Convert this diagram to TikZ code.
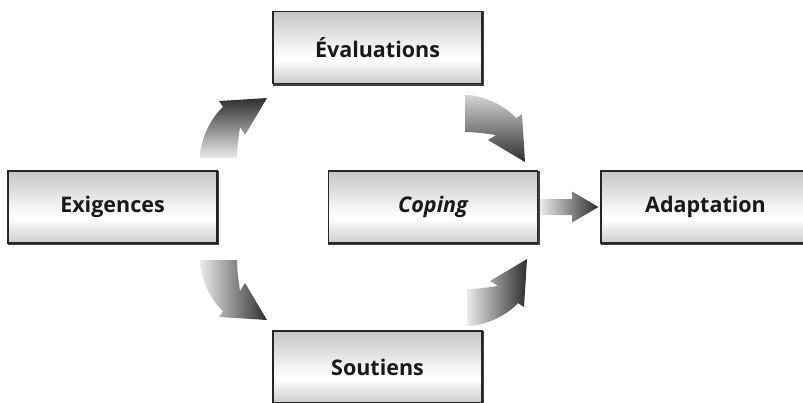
\documentclass[tikz,border=0pt]{standalone}
\usepackage{fontspec}
\setmainfont{Open Sans}
\usetikzlibrary{calc}
\definecolor{boxtop}{gray}{0.77}
\definecolor{boxbot}{gray}{0.80}
\definecolor{arrdark}{gray}{0.18}
\definecolor{arrlight}{gray}{0.92}
\definecolor{txt}{gray}{0.1}
\pgfdeclareverticalshading{boxshade}{100bp}{color(0bp)=(boxbot); color(25bp)=(boxbot); color(42bp)=(white); color(48bp)=(white!97!black); color(75bp)=(boxtop); color(100bp)=(boxtop)}
% local arrow point -> global coordinate
\newcommand\ArPt[3]{\coordinate (\ArP-#1) at ({\ArX+\ArA*(#2)+\ArC*(#3)},{\ArY+\ArB*(#2)+\ArD*(#3)});}
\newcommand\ArrowPts[7]{%
  \def\ArP{#1}\def\ArX{#2}\def\ArY{#3}\def\ArA{#4}\def\ArB{#5}\def\ArC{#6}\def\ArD{#7}%
  \ArPt{ob}{-18.5}{0}
  \ArPt{c1}{-18.5}{-18}
  \ArPt{c2}{-8}{-40}
  \ArPt{oj}{4.5}{-51}
  \ArPt{lb}{0.5}{-57}
  \ArPt{tip}{48.5}{-60}
  \ArPt{rb}{26.5}{-23}
  \ArPt{ij}{21.5}{-31}
  \ArPt{c3}{20}{-20}
  \ArPt{c4}{18.5}{-10}
  \ArPt{ib}{18.5}{0}
}
\newcommand\ArrowShape[1]{(#1-ob) .. controls (#1-c1) and (#1-c2) .. (#1-oj) -- (#1-lb) -- (#1-tip) -- (#1-rb) -- (#1-ij) .. controls (#1-c3) and (#1-c4) .. (#1-ib) -- cycle}
\tikzset{
  box/.style={draw=black!85, line width=1.1pt, minimum width=209pt, minimum height=72pt, inner sep=0pt,
    text=txt, font=\bfseries\fontsize{21.5}{25}\selectfont, shade, shading=boxshade},
  boxshadow/.style={draw=black!75, line width=1.2pt},
}
\begin{document}
\begin{tikzpicture}[x=1pt,y=-1pt]
\clip (0,0) rectangle (803,402);
\fill[white] (0,0) rectangle (803,402);

\node[box] (eval)   at (377.5,47.5) {Évaluations};
\node[box] (exig)   at (112.5,207)  {Exigences};
\node[box] (coping) at (433,207)    {\itshape Coping};
\node[box] (adapt)  at (705.5,207)  {Adaptation};
\node[box] (sout)   at (377.5,367)  {Soutiens};

\foreach \n in {eval,exig,coping,adapt,sout}
  \draw[boxshadow] ([shift={(0.5pt,-1pt)}]\n.south west) -- ([shift={(1pt,-1pt)}]\n.south east) -- ([shift={(1pt,-0.5pt)}]\n.north east);

% curved arrows
\ArrowPts{aA}{218.5}{158}{1}{0}{0}{1}
\ArrowPts{aB}{465}{113.5}{0}{1}{-1}{0}
\ArrowPts{aC}{218.5}{260}{1}{0}{0}{-1}
\ArrowPts{aD}{467}{307.5}{0}{-1}{-1}{0}

\shade[top color=arrdark, bottom color=arrlight] \ArrowShape{aA};
\shade[top color=arrlight!90!black, bottom color=arrdark] \ArrowShape{aB};
\shade[left color=arrlight, right color=arrdark] \ArrowShape{aC};
\shade[left color=arrlight, right color=arrdark] \ArrowShape{aD};

% straight arrow Coping -> Adaptation
\coordinate (h0) at ($(coping.east)+(2,0)$);
\coordinate (h1) at ($(adapt.west)+(-2,0)$);
\shade[left color=arrlight, right color=arrdark]
  ($(h0)+(0,-8)$) -- ($(h0)+(32,-8)$) -- ($(h0)+(32,-15.5)$) -- (h1)
  -- ($(h0)+(32,15.5)$) -- ($(h0)+(32,8)$) -- ($(h0)+(0,8)$) -- cycle;
\end{tikzpicture}
\end{document}
